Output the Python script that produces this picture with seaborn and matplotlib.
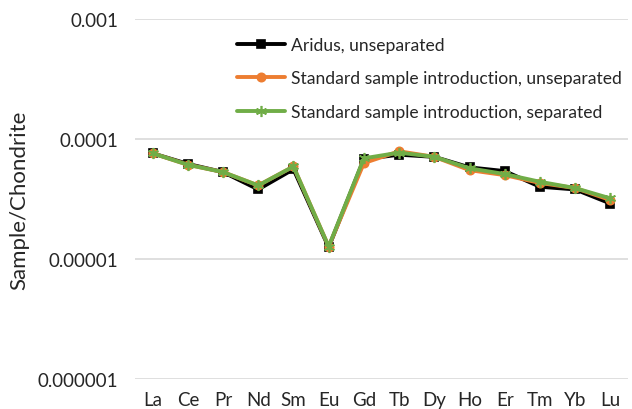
import pandas as pd
import seaborn as sns
import matplotlib.pyplot as plt
from matplotlib.ticker import FixedLocator, FixedFormatter, NullLocator

elements = ["La", "Ce", "Pr", "Nd", "Sm", "Eu", "Gd", "Tb", "Dy", "Ho", "Er", "Tm", "Yb", "Lu"]

aridus_unsep = [7.6e-5, 6.2e-5, 5.3e-5, 3.8e-5, 5.6e-5, 1.25e-5, 6.8e-5, 7.4e-5, 7.1e-5, 5.8e-5, 5.4e-5, 4.0e-5, 3.8e-5, 2.9e-5]
standard_unsep = [7.6e-5, 6.1e-5, 5.3e-5, 4.1e-5, 5.9e-5, 1.27e-5, 6.3e-5, 7.9e-5, 7.1e-5, 5.5e-5, 5.0e-5, 4.3e-5, 3.9e-5, 3.1e-5]
standard_sep = [7.6e-5, 6.1e-5, 5.3e-5, 4.1e-5, 5.9e-5, 1.27e-5, 6.9e-5, 7.7e-5, 7.1e-5, 5.7e-5, 5.1e-5, 4.4e-5, 3.9e-5, 3.2e-5]

series_names = [
    "Aridus, unseparated",
    "Standard sample introduction, unseparated",
    "Standard sample introduction, separated",
]
series_values = [aridus_unsep, standard_unsep, standard_sep]
colors = ["#000000", "#ed7d31", "#70ad47"]
markers = ["s", "o", (6, 2, 0)]
marker_sizes = [6, 6, 8]

y_ticks = [1e-6, 1e-5, 1e-4, 1e-3]
y_tick_labels = ["0.000001", "0.00001", "0.0001", "0.001"]

sns.set_style("white")
plt.rcParams["font.family"] = ["Lato", "DejaVu Sans"]

fig = plt.figure(figsize=(6.32, 4.10), dpi=100)
ax = fig.add_axes([135 / 632, 30 / 410, 493 / 632, 360 / 410])

for name, vals, c, m, ms in zip(series_names, series_values, colors, markers, marker_sizes):
    df = pd.DataFrame({"element": elements, "value": vals})
    sns.lineplot(data=df, x="element", y="value", ax=ax, color=c, marker=m,
                 markersize=ms, linewidth=2.8, markeredgecolor=c,
                 markeredgewidth=1.2, label=name, sort=False)

ax.set_yscale("log")
ax.set_ylim(1e-6, 1e-3)
ax.set_xlim(-0.5, len(elements) - 0.5)
ax.yaxis.set_major_locator(FixedLocator(y_ticks))
ax.yaxis.set_major_formatter(FixedFormatter(y_tick_labels))
ax.yaxis.set_minor_locator(NullLocator())
ax.grid(axis="y", color="#d9d9d9", linewidth=1.2)
ax.grid(axis="x", visible=False)
for s in ax.spines.values():
    s.set_visible(False)
ax.tick_params(axis="both", length=0, labelsize=13.5, colors="#262626")
ax.tick_params(axis="y", pad=12)
ax.tick_params(axis="x", pad=9)
ax.set_xlabel("")
ax.set_ylabel("Sample/Chondrite", fontsize=16, color="#262626", labelpad=6)

leg = ax.legend(loc="upper left", bbox_to_anchor=(0.193, 0.97), frameon=False,
                fontsize=12.6, handlelength=2.75, handletextpad=0.35,
                labelspacing=1.0, borderaxespad=0)
for t in leg.get_texts():
    t.set_color("#262626")

fig.savefig("out.png", dpi=100)
